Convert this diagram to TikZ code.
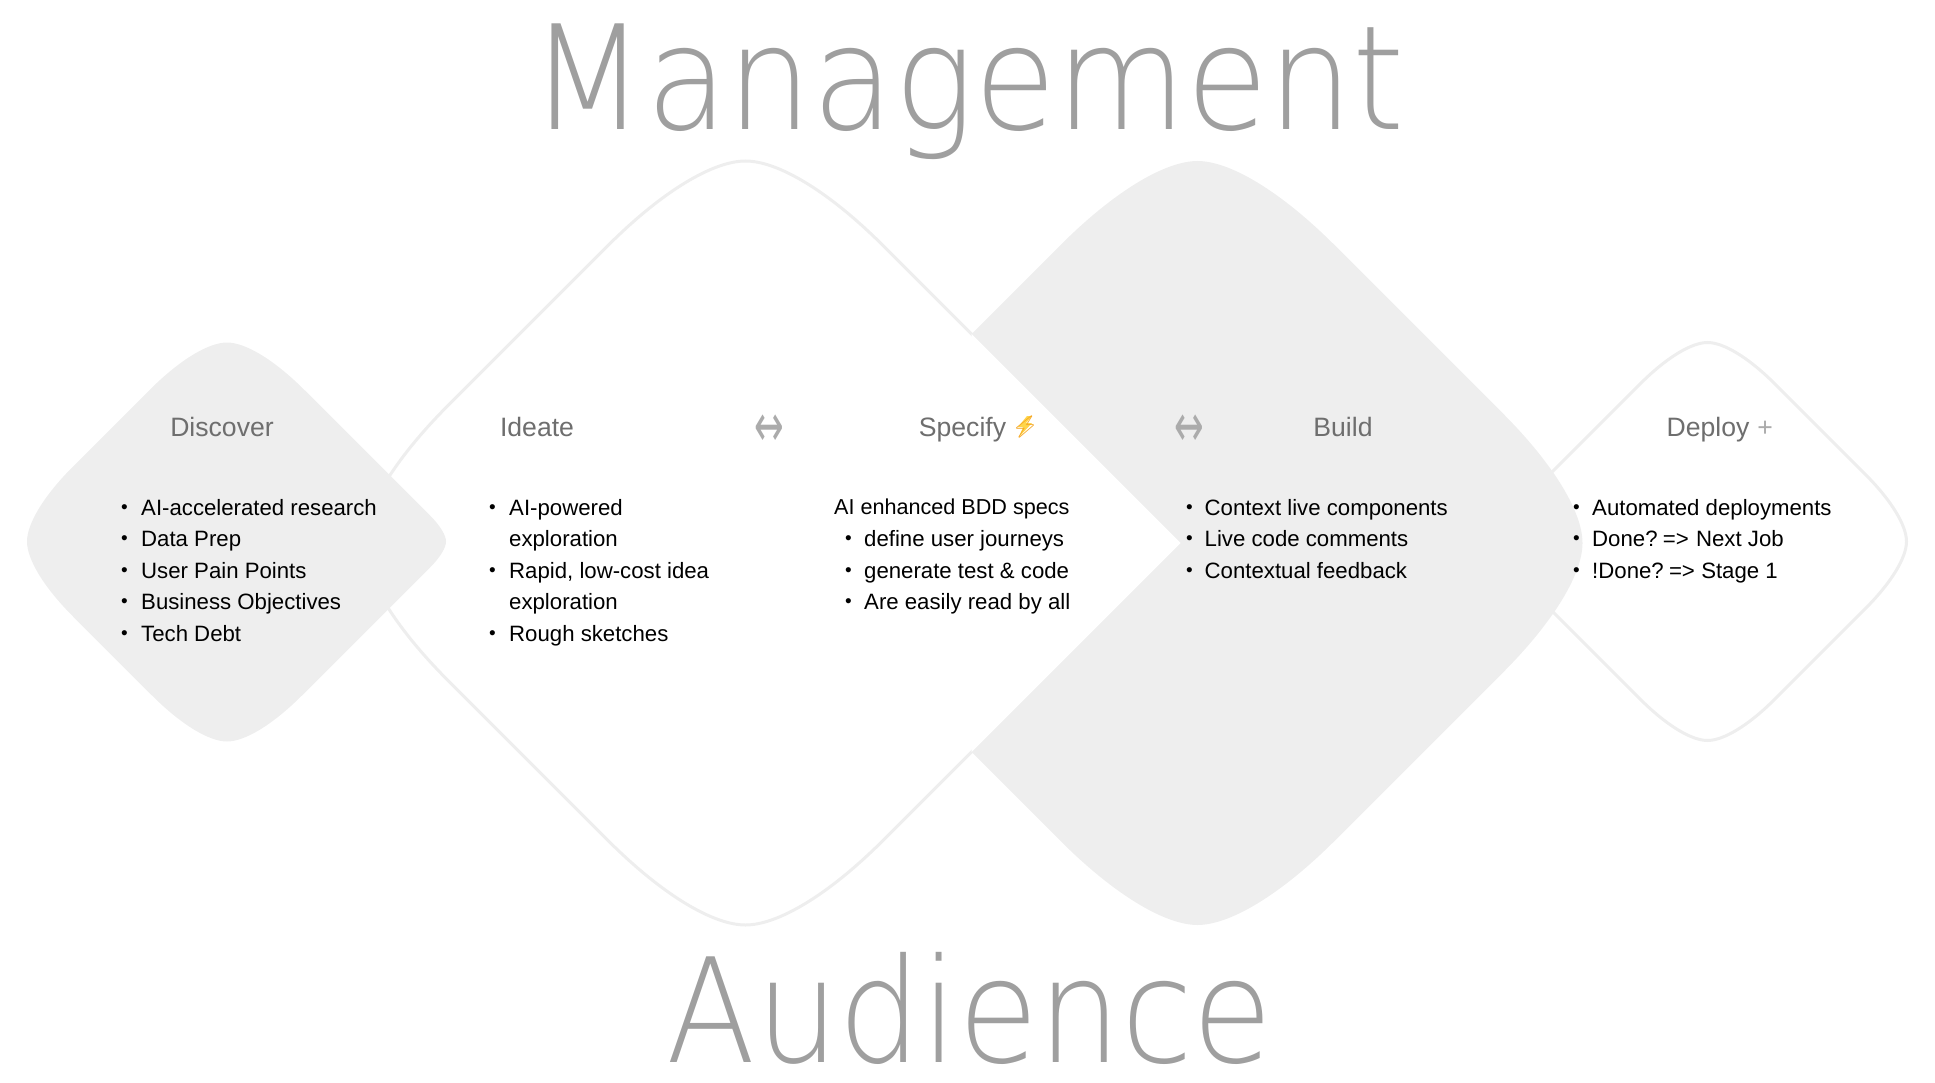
\documentclass[tikz,border=0pt]{standalone}
\usepackage{fontspec}
\setmainfont{Liberation Sans}
\IfFontExistsTF{DejaVu Sans ExtraLight}
  {\newfontfamily\thinfont{DejaVu Sans ExtraLight}[FakeStretch=0.9]\newfontfamily\thinwide{DejaVu Sans ExtraLight}[FakeStretch=0.92]\newcommand{\titlesize}{145}}
  {\newfontfamily\thinfont{Fira Sans}[UprightFont=* Thin,LetterSpace=-0.8]\newfontfamily\thinwide{Fira Sans}[UprightFont=* Thin,LetterSpace=-0.8]\newcommand{\titlesize}{154}}
\newfontfamily\symfont{DejaVu Sans}
\newfontfamily\emojifont{Noto Emoji}
\definecolor{shade}{HTML}{EEEEEE}
\definecolor{titlegrey}{HTML}{9F9F9F}
\definecolor{headgrey}{HTML}{6E6E6E}
\definecolor{arrowgrey}{HTML}{ABABAB}
\definecolor{boltfill}{HTML}{FFD54A}
\definecolor{boltline}{HTML}{F5A623}
% #1 cx, #2 cy, #3 half diagonal of the sharp shape, #4..#7 cut at top,right,bottom,left
\newcommand{\rdpath}[7]{%
  (#1-#3+#7, #2)
  .. controls (#1-#3+#7, #2-0.6*#7) and (#1-#3+1.55*#7, #2-1.55*#7) .. (#1-#3+2.6*#7, #2-2.6*#7)
  -- (#1-2.6*#4, #2-#3+2.6*#4)
  .. controls (#1-1.55*#4, #2-#3+1.55*#4) and (#1-0.6*#4, #2-#3+#4) .. (#1, #2-#3+#4)
  .. controls (#1+0.6*#4, #2-#3+#4) and (#1+1.55*#4, #2-#3+1.55*#4) .. (#1+2.6*#4, #2-#3+2.6*#4)
  -- (#1+#3-2.6*#5, #2-2.6*#5)
  .. controls (#1+#3-1.55*#5, #2-1.55*#5) and (#1+#3-#5, #2-0.6*#5) .. (#1+#3-#5, #2)
  .. controls (#1+#3-#5, #2+0.6*#5) and (#1+#3-1.55*#5, #2+1.55*#5) .. (#1+#3-2.6*#5, #2+2.6*#5)
  -- (#1+2.6*#6, #2+#3-2.6*#6)
  .. controls (#1+1.55*#6, #2+#3-1.55*#6) and (#1+0.6*#6, #2+#3-#6) .. (#1, #2+#3-#6)
  .. controls (#1-0.6*#6, #2+#3-#6) and (#1-1.55*#6, #2+#3-1.55*#6) .. (#1-2.6*#6, #2+#3-2.6*#6)
  -- (#1-#3+2.6*#7, #2+2.6*#7)
  .. controls (#1-#3+1.55*#7, #2+1.55*#7) and (#1-#3+#7, #2+0.6*#7) .. cycle}
\newcommand{\dotmark}{\vphantom{Ag}\raisebox{1.2pt}{\fontsize{19}{19}\selectfont •}}
\tikzset{
  outlineshape/.style={draw=shade,line width=3pt,fill=white},
  filledshape/.style={fill=shade,draw=none},
  titletext/.style={font=\thinfont\fontsize{\titlesize}{\titlesize}\selectfont,text=titlegrey,inner sep=0pt,anchor=base},
  titlewide/.style={font=\thinwide\fontsize{\titlesize}{\titlesize}\selectfont,text=titlegrey,inner sep=0pt,anchor=base},
  headtext/.style={font=\fontsize{26.6}{26.6}\selectfont,text=headgrey,inner sep=0pt,anchor=base},
  bodytext/.style={font=\fontsize{22.2}{31.5}\selectfont,text=black,inner sep=0pt,anchor=north west,align=left},
  swapglyph/.style={font=\symfont\fontsize{30}{30}\selectfont,text=arrowgrey,inner sep=0pt,anchor=center},
  boltglyph/.style={font=\emojifont\fontsize{22}{22}\selectfont,text=boltline,inner sep=0pt,anchor=base},
}
\begin{document}
\begin{tikzpicture}[x=1pt,y=-1pt]
\useasboundingbox (0,0) rectangle (1935,1083);
% big shapes
\path[outlineshape] \rdpath{1707.5}{541.5}{225}{26}{26}{26}{26};
\path[filledshape] \rdpath{1197.5}{543}{435}{53}{50}{53}{53};
\path[outlineshape] \rdpath{745.5}{543}{435}{53}{53}{53}{53};
\fill[white] (971.5,334) -- (1180.5,543) -- (971.5,752) -- cycle;
\path[filledshape] \rdpath{227}{541.5}{229}{30}{10}{29}{29};
% titles
\node[titlewide] (mgmt) at (968,130) {Management};
\node[titletext] (aud) at (970,1062) {Audience};
% heads
\node[headtext] (h1) at (222,436.5) {Discover};
\node[headtext] (h2) at (537,436.5) {Ideate};
\node[headtext] (h3) at (962.5,436.5) {Specify};
\fill[boltfill] (1027,416) -- (1018,427) -- (1023,427) -- (1019,437) -- (1032,423) -- (1026,423) -- (1032,416) -- cycle;
\node[boltglyph] (bolt) at (1025,434) {⚡};
\node[headtext] (h4) at (1343,436.5) {Build};
\node[headtext] (h5) at (1708,436.5) {Deploy};
\node[headtext,text=arrowgrey] (plus) at (1765,436.5) {+};
\node[swapglyph] (sw1) at (769,430.5) {\scalebox{1.18}[2]{↔}};
\node[swapglyph] (sw2) at (1189,430.5) {\scalebox{1.18}[2]{↔}};
% lists
\node[bodytext] (d) at (141,499) {\vphantom{Ag}AI-accelerated research\\Data Prep\\User Pain Points\\Business Objectives\\Tech Debt};
\node[bodytext] (db) at (121,499) {\dotmark\\\dotmark\\\dotmark\\\dotmark\\\dotmark};
\node[bodytext] (i) at (509,499) {\vphantom{Ag}AI-powered\\exploration\\Rapid, low-cost idea\\exploration\\Rough sketches};
\node[bodytext] (ib) at (489,499) {\dotmark\\ \\\dotmark\\ \\\dotmark};
\node[bodytext,font=\fontsize{21.6}{31.5}\selectfont] (s0) at (834,499) {\vphantom{Ag}AI enhanced BDD specs};
\node[bodytext] (s) at (864,530.5) {\vphantom{Ag}define user journeys\\generate test \& code\\Are easily read by all};
\node[bodytext] (sb) at (845,530.5) {\dotmark\\\dotmark\\\dotmark};
\node[bodytext] (b) at (1204.5,499) {\vphantom{Ag}Context live components\\Live code comments\\Contextual feedback};
\node[bodytext] (bb) at (1186,499) {\dotmark\\\dotmark\\\dotmark};
\node[bodytext] (e) at (1592,499) {\vphantom{Ag}Automated deployments\\Done?\kern-3pt{} =>\kern-5pt{} \ Next Job\\!Done?\kern-3pt{} =>\kern-6pt{} \ Stage 1};
\node[bodytext] (eb) at (1573,499) {\dotmark\\\dotmark\\\dotmark};
\end{tikzpicture}
\end{document}
